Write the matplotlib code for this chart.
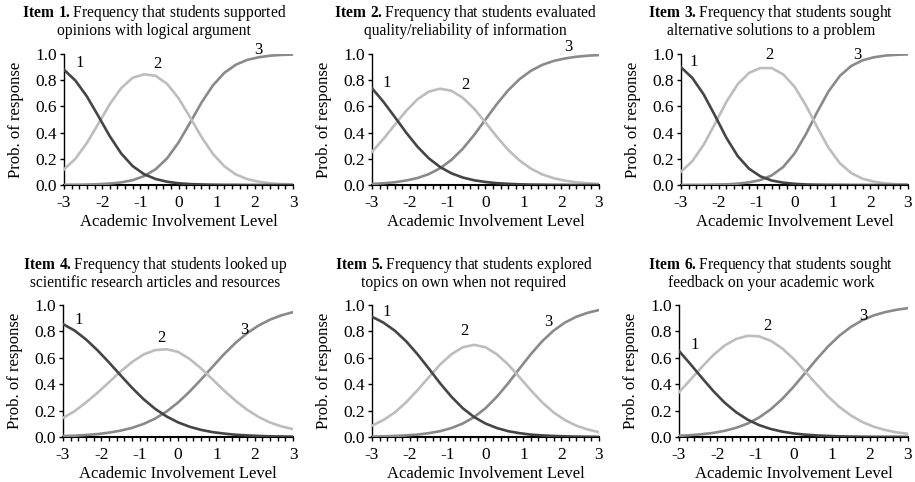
import matplotlib
matplotlib.use("Agg")
import matplotlib.pyplot as plt
from matplotlib.ticker import MultipleLocator

plt.rcParams['font.family'] = ['Liberation Serif', 'DejaVu Serif']
plt.rcParams['mathtext.fontset'] = 'custom'
plt.rcParams['mathtext.rm'] = 'Liberation Serif'
plt.rcParams['mathtext.bf'] = 'Liberation Serif:bold'


# Ability levels (theta) where the curves were read
theta = [-3.0, -2.7, -2.4, -2.1, -1.8, -1.5, -1.2, -0.9, -0.6, -0.3, 0.0,
         0.3, 0.6, 0.9, 1.2, 1.5, 1.8, 2.1, 2.4, 2.7, 3.0]

# Item titles
titles = [
    ("Item 1.", "Frequency that students supported", "opinions with logical argument"),
    ("Item 2.", "Frequency that students evaluated", "quality/reliability of information"),
    ("Item 3.", "Frequency that students sought", "alternative solutions to a problem"),
    ("Item 4.", "Frequency that students looked up", "scientific research articles and resources"),
    ("Item 5.", "Frequency that students explored", "topics on own when not required"),
    ("Item 6.", "Frequency that students sought", "feedback on your academic work"),
]

# Category response curves (prob. of response 1, 2, 3)
item1_cat1 = [0.880, 0.797, 0.676, 0.526, 0.372, 0.240, 0.144, 0.082, 0.046, 0.025, 0.013,
              0.007, 0.004, 0.002, 0.001, 0.001, 0.000, 0.000, 0.000, 0.000, 0.000]
item1_cat2 = [0.119, 0.201, 0.321, 0.468, 0.617, 0.740, 0.819, 0.845, 0.834, 0.772, 0.663,
              0.519, 0.368, 0.238, 0.143, 0.081, 0.045, 0.025, 0.013, 0.007, 0.004]
item1_cat3 = [0.001, 0.002, 0.003, 0.006, 0.011, 0.020, 0.037, 0.068, 0.120, 0.203, 0.324,
              0.474, 0.628, 0.760, 0.856, 0.918, 0.955, 0.975, 0.987, 0.993, 0.996]

item2_cat1 = [0.739, 0.636, 0.520, 0.401, 0.293, 0.204, 0.137, 0.089, 0.057, 0.036, 0.023,
              0.014, 0.009, 0.005, 0.003, 0.002, 0.001, 0.001, 0.000, 0.000, 0.000]
item2_cat2 = [0.253, 0.351, 0.459, 0.565, 0.654, 0.713, 0.735, 0.719, 0.666, 0.582, 0.477,
              0.368, 0.268, 0.187, 0.125, 0.081, 0.052, 0.033, 0.021, 0.013, 0.008]
item2_cat3 = [0.008, 0.013, 0.021, 0.034, 0.053, 0.083, 0.128, 0.192, 0.277, 0.382, 0.500,
              0.618, 0.723, 0.808, 0.872, 0.917, 0.947, 0.966, 0.979, 0.987, 0.992]

item3_cat1 = [0.899, 0.817, 0.691, 0.529, 0.360, 0.220, 0.124, 0.066, 0.034, 0.018, 0.009,
              0.004, 0.002, 0.001, 0.001, 0.000, 0.000, 0.000, 0.000, 0.000, 0.000]
item3_cat2 = [0.101, 0.182, 0.308, 0.468, 0.635, 0.770, 0.856, 0.893, 0.892, 0.845, 0.751,
              0.609, 0.441, 0.284, 0.166, 0.091, 0.048, 0.025, 0.012, 0.006, 0.003]
item3_cat3 = [0.000, 0.001, 0.001, 0.003, 0.005, 0.010, 0.020, 0.038, 0.074, 0.137, 0.240,
              0.387, 0.557, 0.715, 0.833, 0.909, 0.952, 0.975, 0.988, 0.994, 0.997]

item4_cat1 = [0.855, 0.807, 0.739, 0.657, 0.565, 0.468, 0.373, 0.287, 0.214, 0.156, 0.111,
              0.078, 0.054, 0.037, 0.026, 0.017, 0.012, 0.008, 0.005, 0.004, 0.003]
item4_cat2 = [0.145, 0.195, 0.262, 0.335, 0.415, 0.495, 0.568, 0.625, 0.658, 0.665, 0.645,
              0.592, 0.520, 0.437, 0.352, 0.275, 0.207, 0.152, 0.110, 0.080, 0.060]
item4_cat3 = [0.007, 0.010, 0.015, 0.022, 0.033, 0.048, 0.069, 0.099, 0.139, 0.193, 0.261,
              0.343, 0.435, 0.532, 0.627, 0.713, 0.786, 0.844, 0.889, 0.922, 0.946]

item5_cat1 = [0.911, 0.867, 0.806, 0.726, 0.628, 0.519, 0.407, 0.305, 0.218, 0.151, 0.102,
              0.068, 0.044, 0.029, 0.018, 0.012, 0.008, 0.005, 0.003, 0.002, 0.001]
item5_cat2 = [0.086, 0.128, 0.186, 0.262, 0.354, 0.452, 0.549, 0.627, 0.680, 0.698, 0.680,
              0.627, 0.549, 0.452, 0.354, 0.262, 0.186, 0.128, 0.086, 0.057, 0.037]
item5_cat3 = [0.003, 0.005, 0.008, 0.012, 0.018, 0.029, 0.044, 0.068, 0.102, 0.151, 0.218,
              0.305, 0.407, 0.519, 0.628, 0.726, 0.806, 0.867, 0.911, 0.941, 0.962]

item6_cat1 = [0.652, 0.552, 0.448, 0.348, 0.259, 0.187, 0.131, 0.090, 0.061, 0.041, 0.027,
              0.018, 0.012, 0.008, 0.005, 0.003, 0.002, 0.001, 0.001, 0.001, 0.000]
item6_cat2 = [0.339, 0.434, 0.531, 0.621, 0.694, 0.743, 0.767, 0.762, 0.730, 0.672, 0.593,
              0.499, 0.401, 0.308, 0.228, 0.164, 0.114, 0.078, 0.053, 0.035, 0.024]
item6_cat3 = [0.009, 0.014, 0.021, 0.031, 0.047, 0.070, 0.102, 0.148, 0.209, 0.287, 0.380,
              0.483, 0.587, 0.684, 0.767, 0.833, 0.884, 0.921, 0.946, 0.964, 0.976]

curves = [
    (item1_cat1, item1_cat2, item1_cat3),
    (item2_cat1, item2_cat2, item2_cat3),
    (item3_cat1, item3_cat2, item3_cat3),
    (item4_cat1, item4_cat2, item4_cat3),
    (item5_cat1, item5_cat2, item5_cat3),
    (item6_cat1, item6_cat2, item6_cat3),
]

# where the 1/2/3 labels sit (theta, prob)
label_pos = [
    [(-2.6, 0.93), (-0.56, 0.92), (2.08, 1.03)],
    [(-2.6, 0.78), (-0.54, 0.76), (2.2, 1.05)],
    [(-2.66, 0.94), (-0.67, 0.99), (1.65, 0.99)],
    [(-2.6, 0.89), (-0.44, 0.75), (1.72, 0.81)],
    [(-2.6, 0.95), (-0.57, 0.80), (1.66, 0.87)],
    [(-2.58, 0.70), (-0.69, 0.84), (1.82, 0.92)],
]

colors = ["#454545", "#bdbdbd", "#8a8a8a"]

W, H = 915, 482
fig = plt.figure(figsize=(W / 100, H / 100), dpi=100)

# axes boxes in pixels: left, right, top(y=1), bottom(y=0)
boxes = [
    (64, 293, 54, 185), (372, 599, 54, 185), (681, 908, 54, 185),
    (63, 293, 305, 437), (372, 599, 305, 437), (679, 908, 305, 437),
]
title_x = [154, 465, 771, 155, 464, 771]
title_y = [(13, 31), (13, 31), (13, 31), (265, 283), (265, 283), (265, 283)]

for i in range(6):
    l, r, t, b = boxes[i]
    ax = fig.add_axes([l / W, 1 - b / H, (r - l) / W, (b - t) / H])
    for k in range(3):
        ax.plot(theta, curves[i][k], color=colors[k], lw=1.9, zorder=3 - k * 0.1)
        lx, ly = label_pos[i][k]
        ax.text(lx, ly, str(k + 1), fontsize=12, ha="center", va="center")

    ax.set_xlim(-3, 3)
    ax.set_ylim(0, 1)
    ax.xaxis.set_minor_locator(MultipleLocator(0.2))
    ax.set_yticks([0, 0.2, 0.4, 0.6, 0.8, 1.0])
    ax.set_yticklabels(["0.0", "0.2", "0.4", "0.6", "0.8", "1.0"])
    ax.set_xticks([-3, -2, -1, 0, 1, 2, 3])
    ax.set_xticklabels(["-3", "-2", "-1", "0", "1", "2", "3"])
    ax.tick_params(axis="both", labelsize=12.5, direction="out", length=3, width=1)
    ax.tick_params(axis="y", pad=2)
    ax.tick_params(axis="x", pad=4)
    ax.tick_params(axis="x", which="minor", direction="out", length=3, width=1)
    ax.spines["top"].set_visible(False)
    ax.spines["right"].set_visible(False)
    ax.spines["left"].set_linewidth(1)
    ax.spines["bottom"].set_linewidth(1.5)
    ax.set_xlabel("Academic Involvement Level", fontsize=12, labelpad=2)
    ax.set_ylabel("Prob. of response", fontsize=12, labelpad=8)
    ax.patch.set_alpha(0)

    bold, line1, line2 = titles[i]
    head = r"$\mathbf{" + bold.replace(" ", r"\ ") + r"}$" + line1
    fig.text(title_x[i] / W, 1 - title_y[i][0] / H, head, fontsize=11.2,
             ha="center", va="center")
    fig.text(title_x[i] / W, 1 - title_y[i][1] / H, line2, fontsize=11.2,
             ha="center", va="center")

fig.savefig("out.png", dpi=100)
